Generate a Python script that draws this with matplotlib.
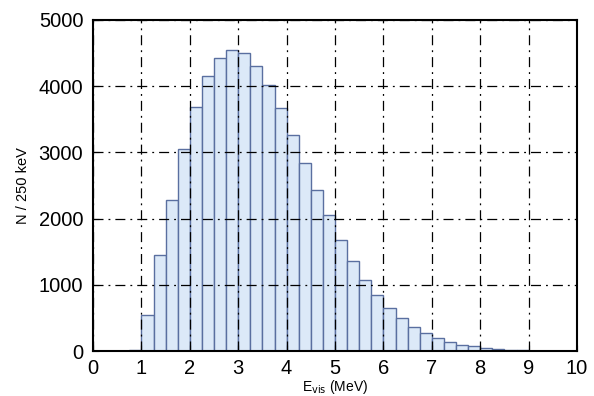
import numpy as np
import matplotlib
matplotlib.use("Agg")
import matplotlib.pyplot as plt

plt.rcParams['font.family'] = ['Liberation Sans', 'DejaVu Sans']

bin_edges = np.arange(0.75, 9.5 + 0.001, 0.25)
counts = [20, 550, 1444, 2288, 3055, 3682, 4152, 4433, 4545, 4500, 4308, 4020,
          3667, 3262, 2842, 2429, 2050, 1682, 1358, 1080, 848, 656, 500, 368,
          272, 202, 141, 95, 70, 50, 35, 20, 12, 5, 2]
xticks = list(range(0, 11))
yticks = [0, 1000, 2000, 3000, 4000, 5000]

fig = plt.figure(figsize=(5.94, 3.96), dpi=100)
ax = fig.add_axes([0.1566, 0.1136, 0.8148, 0.8359])
ax.bar(bin_edges[:-1], counts, width=0.25, align='edge',
       facecolor='#dce9f8', edgecolor='#5a6fa0', linewidth=1.0, zorder=1)
ax.set_xlim(0, 10)
ax.set_ylim(0, 5000)
ax.set_xticks(xticks)
ax.set_yticks(yticks)
ax.tick_params(direction='in', length=4, labelsize=14.5)
ax.tick_params(axis='x', pad=5.5)
ax.tick_params(axis='y', pad=7)
ax.grid(True, color='black', linestyle=(0, (8, 4, 1.5, 4)), linewidth=0.9, zorder=2)
ax.set_axisbelow(False)
for s in ax.spines.values():
    s.set_linewidth(1.5)
ax.set_xlabel('E$_{\\mathrm{vis}}$ (MeV)', fontsize=10, labelpad=0)
ax.set_ylabel('N / 250 keV', fontsize=10.5, labelpad=6)
fig.savefig('out.png', dpi=100)
